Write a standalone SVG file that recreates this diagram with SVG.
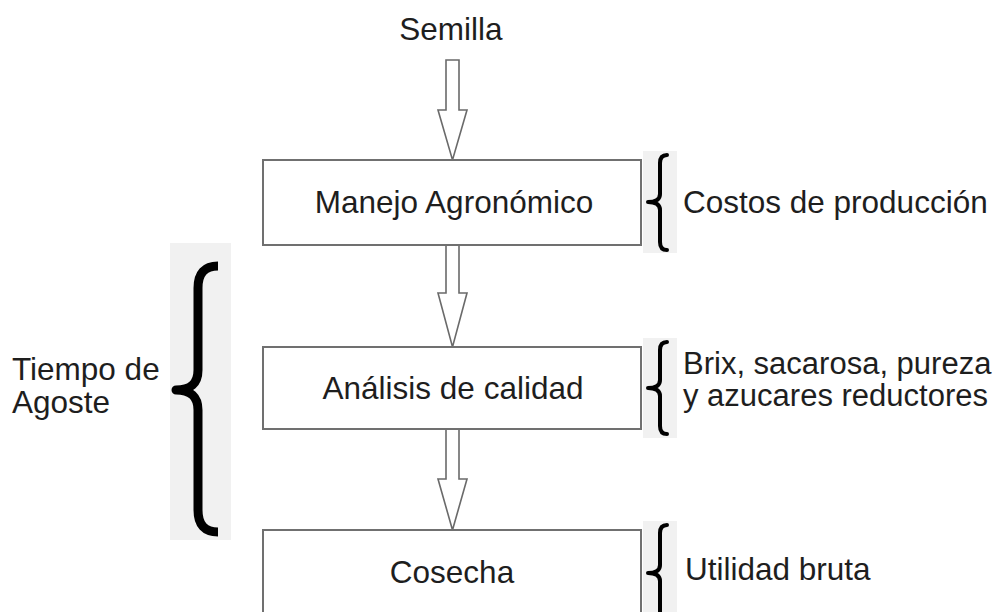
<svg xmlns="http://www.w3.org/2000/svg" width="1003" height="612" viewBox="0 0 1003 612">
<style>
text{font-family:"Liberation Sans",Arial,sans-serif;font-size:31.5px;fill:#1e1e1e}
.c{text-anchor:middle}
.s{font-size:31px}
.box{fill:#fff;stroke:#707070;stroke-width:2}
.arr{fill:#fff;stroke:#6a6a6a;stroke-width:1.6;stroke-linejoin:miter}
.bg{fill:#f1f1f1}
.br{fill:none;stroke:#000;stroke-width:4;stroke-linecap:round;stroke-linejoin:round}
.brL{fill:none;stroke:#000;stroke-width:9;stroke-linecap:butt;stroke-linejoin:round}
</style>
<rect width="1003" height="612" fill="#fff"/>
<g id="connectors">
<path class="arr" d="M446,60 H459 V110 H467 L452.5,160 L438,110 H446 Z"/>
<path class="arr" d="M446,245 H459 V293 H467 L452.5,347 L438,293 H446 Z"/>
<path class="arr" d="M446,429 H459 V479 H467 L452.5,530 L438,479 H446 Z"/>
</g>
<g id="semilla"><text class="c" x="451" y="40">Semilla</text></g>
<g id="manejo">
<rect class="box" x="263" y="160" width="378" height="85"/>
<text class="c" x="454" y="213">Manejo Agronómico</text>
</g>
<g id="analisis">
<rect class="box" x="263" y="347" width="378" height="82"/>
<text class="c" x="453" y="399">Análisis de calidad</text>
</g>
<g id="cosecha">
<rect class="box" x="263" y="530" width="378" height="90"/>
<text class="c" x="452" y="583">Cosecha</text>
</g>
<g id="costos">
<rect class="bg" x="643" y="151" width="34" height="102"/>
<path class="br" d="M667,155 Q660,155 660,163 L660,194 Q660,202 648,202 Q660,202 660,210 L660,242 Q660,250 667,250"/>
<text x="683" y="213">Costos de producción</text>
</g>
<g id="brix">
<rect class="bg" x="643" y="338" width="34" height="100"/>
<path class="br" d="M667,342 Q660,342 660,350 L660,380 Q660,388 648,388 Q660,388 660,396 L660,426 Q660,434 667,434"/>
<text class="s" x="683" y="374">Brix, sacarosa, pureza</text>
<text class="s" x="683" y="406">y azucares reductores</text>
</g>
<g id="utilidad">
<rect class="bg" x="643" y="521" width="34" height="91"/>
<path class="br" d="M667,525 Q660,525 660,533 L660,565 Q660,573 648,573 Q660,573 660,581 L660,612"/>
<text x="685" y="580">Utilidad bruta</text>
</g>
<g id="agoste">
<rect class="bg" x="170" y="243" width="61" height="297"/>
<path class="brL" d="M218,266 Q198,266 198,288 L198,370 Q198,390 176,390 Q198,390 198,410 L198,510 Q198,532 218,532"/>
<text x="12" y="380">Tiempo de</text>
<text x="12" y="413">Agoste</text>
</g>
</svg>
